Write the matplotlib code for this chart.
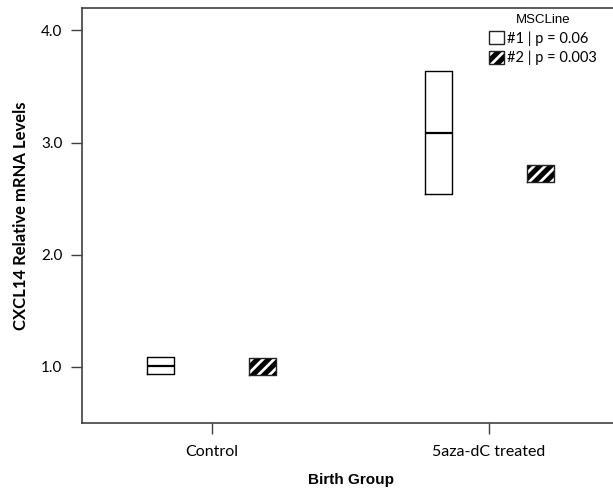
import numpy as np
import matplotlib
matplotlib.use('Agg')
import matplotlib.pyplot as plt
from matplotlib.patches import Patch

# values
groups = ['Control', '5aza-dC treated']
line_names = ['#1 | p = 0.06', '#2 | p = 0.003']
q1_line1 = [0.94, 2.54]
med_line1 = [1.01, 3.09]
q3_line1 = [1.09, 3.64]
q1_line2 = [0.93, 2.65]
med_line2 = [1.00, 2.72]
q3_line2 = [1.08, 2.80]
yticks = [1.0, 2.0, 3.0, 4.0]

plt.rcParams['hatch.linewidth'] = 2.0
tick_font = 'Lato'
axis_col = '#404040'

fig = plt.figure(figsize=(6.13, 4.9), dpi=100)
ax = fig.add_axes([82 / 613, 1 - 423 / 490, (619 - 82) / 613, (423 - 8) / 490])

x = np.arange(len(groups))
off = 0.184
w = 0.0975


def make_stats(q1, med, q3):
    return [dict(q1=a, med=m, q3=b, whislo=a, whishi=b, fliers=[])
            for a, m, b in zip(q1, med, q3)]


common = dict(widths=w, showcaps=False, showfliers=False,
              whiskerprops=dict(linewidth=0), manage_ticks=False)

# line #1: open boxes
ax.bxp(make_stats(q1_line1, med_line1, q3_line1), positions=x - off,
       boxprops=dict(color='black', linewidth=1.0),
       medianprops=dict(color='black', linewidth=1.6), **common)

# line #2: black boxes with white diagonal stripes
ax.bxp(make_stats(q1_line2, med_line2, q3_line2), positions=x + off, patch_artist=True,
       boxprops=dict(facecolor='black', edgecolor='white', hatch='///', linewidth=0),
       medianprops=dict(linewidth=0), **common)
ax.bxp(make_stats(q1_line2, med_line2, q3_line2), positions=x + off,
       boxprops=dict(color='#222222', linewidth=1.0),
       medianprops=dict(linewidth=0), **common)

ax.set_xlim(-0.469, 1.469)
ax.set_ylim(0.5, 4.2)
ax.set_xticks(x)
ax.set_xticklabels(groups, fontsize=11.5, family=tick_font)
ax.set_yticks(yticks)
ax.set_yticklabels(['%.1f' % v for v in yticks], fontsize=11, family=tick_font)
ax.tick_params(axis='both', direction='out', length=8, width=1.0, color=axis_col)
ax.tick_params(axis='x', pad=8)
ax.tick_params(axis='y', pad=6)

for s in ['left', 'bottom', 'top']:
    ax.spines[s].set_color(axis_col)
    ax.spines[s].set_linewidth(1.2)
ax.spines['right'].set_visible(False)

ax.set_xlabel('Birth Group', fontsize=11, fontweight='bold', family='Liberation Sans', labelpad=10)
ax.set_ylabel('CXCL14 Relative mRNA Levels', fontsize=12, fontweight='bold', family=tick_font, labelpad=9)

handles = [Patch(facecolor='white', edgecolor='#222222', linewidth=1.0),
           (Patch(facecolor='black', edgecolor='white', hatch='///', linewidth=0),
            Patch(facecolor='none', edgecolor='#222222', linewidth=1.0))]
leg = fig.legend(handles, line_names, loc='upper left', bbox_to_anchor=(489 / 613, 1 - 14 / 490),
                 frameon=False, borderpad=0, borderaxespad=0, handlelength=1.0, handleheight=1.0,
                 handletextpad=0.25, labelspacing=0.35, title='MSCLine',
                 prop=dict(family=tick_font, size=10.5),
                 title_fontproperties=dict(family='Liberation Sans', size=9.5))

fig.savefig('out.png', dpi=100)
